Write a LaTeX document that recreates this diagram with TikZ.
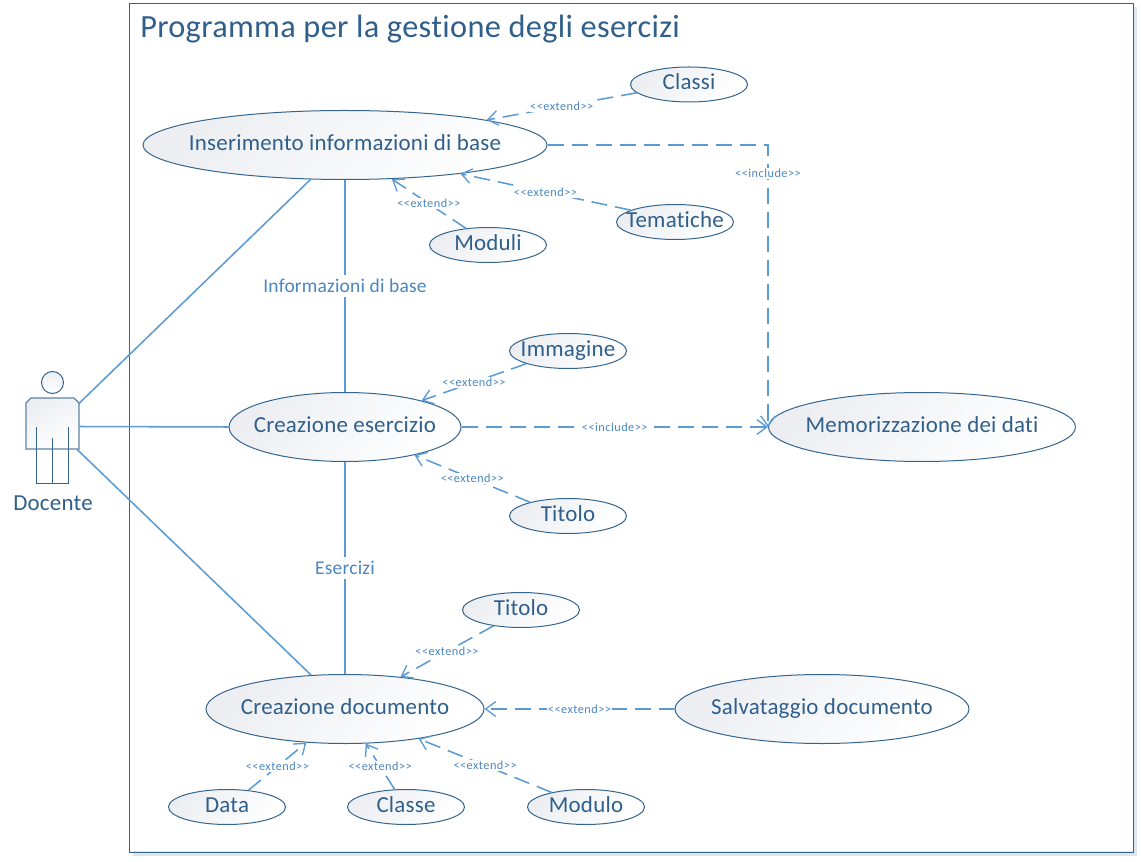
\documentclass[tikz,border=0pt]{standalone}
\usepackage{fontspec}
\newfontfamily\calib[Ligatures=NoCommon,LetterSpace=1.0]{Carlito}
\newfontfamily\calibtiny[Ligatures=NoCommon,LetterSpace=4.0]{Carlito}
\usetikzlibrary{shapes.geometric,arrows.meta}
\definecolor{edgeblue}{HTML}{34658F}
\definecolor{linkblue}{HTML}{5B9BD5}
\definecolor{textblue}{HTML}{2F5F8A}
\definecolor{lablue}{HTML}{4A86C0}
\definecolor{shadegray}{HTML}{ECEEF2}
\definecolor{softblue}{HTML}{DCE6F1}
\newcommand{\ctxt}[1]{\makebox[0pt][c]{#1}}
\tikzset{
  uc/.style 2 args={ellipse, draw=edgeblue, line width=.75pt, top color=shadegray, middle color=white, bottom color=white, shading angle=50,
    minimum width=#1*.75pt, minimum height=#2*.75pt, inner sep=0pt, text height=11.5pt, text depth=3.5pt, text=textblue, font=\calib\fontsize{17.2pt}{20pt}\selectfont},
  small/.style={uc={117}{35}},
  assoc/.style={draw=linkblue, line width=1.15pt},
  dep/.style={draw=linkblue, line width=1.15pt, dash pattern=on 12pt off 6pt, -{Straight Barb[length=7.5pt,width=11pt,line width=1pt]}},
  stereo/.style={fill=white, inner sep=1pt, text=lablue, font=\calibtiny\fontsize{9.2pt}{10pt}\selectfont},
  rolename/.style={fill=white, inner xsep=1pt, inner ysep=3pt, text=lablue, font=\calib\fontsize{14.6pt}{17pt}\selectfont}
}
\begin{document}
\begin{tikzpicture}[x=.75pt,y=-.75pt]
\useasboundingbox (0,0) rectangle (1141,862);
\fill[white] (0,0) rectangle (1141,862);
% system frame
\fill[softblue] (133,851) rectangle (1137,856);
\fill[softblue] (1134,7) rectangle (1137,856);
\draw[draw=edgeblue, line width=.75pt] (129.5,3.5) rectangle (1133.5,852);
\node[anchor=west, inner sep=0pt, text=textblue, font=\calib\fontsize{24.25pt}{28pt}\selectfont] (title) at (140,29) {Programma per la gestione degli esercizi};
% actor
\node[minimum width=53*.75pt, minimum height=45*.75pt, inner sep=0pt] (actor) at (52.5,426.5) {};
\draw[edgeblue, line width=.75pt, top color=shadegray, bottom color=white] (52.5,382.5) circle[radius=11];
\draw[draw=edgeblue!80!white, line width=.9pt, top color=shadegray, middle color=white, bottom color=white, shading angle=30]
  (31,398) -- (74,398) -- (79,403) -- (79,449) -- (26,449) -- (26,403) -- cycle;
\draw[edgeblue, line width=.75pt] (36.5,427) -- (36.5,483) -- (68.5,483) -- (68.5,427) (52.5,438) -- (52.5,483);
\node[inner sep=0pt, text=textblue, font=\calib\fontsize{17.2pt}{20pt}\selectfont] (doc) at (53,503) {Docente};
% use cases
\node[uc={404}{69}] (ins) at (345,145) {\ctxt{Inserimento informazioni di base}};
\node[small] (classi) at (689,84.5) {\ctxt{Classi}};
\node[small] (tem) at (675,222) {\ctxt{Tematiche}};
\node[small] (mod) at (488,245) {\ctxt{Moduli}};
\node[small] (imm) at (568,351) {\ctxt{Immagine}};
\node[uc={232}{69}] (ces) at (345,427) {\ctxt{Creazione esercizio}};
\node[uc={307}{69}] (mem) at (922,427) {\ctxt{Memorizzazione dei dati}};
\node[small] (tit) at (568,516) {\ctxt{Titolo}};
\node[small] (titd) at (521,610) {\ctxt{Titolo}};
\node[uc={278}{69}] (cdo) at (345,709) {\ctxt{Creazione documento}};
\node[uc={294}{69}] (sal) at (822,709) {\ctxt{Salvataggio documento}};
\node[small] (dat) at (227,807) {\ctxt{Data}};
\node[small] (cla) at (406,807) {\ctxt{Classe}};
\node[small] (mdl) at (586,807) {\ctxt{Modulo}};
% associations
\draw[assoc] (actor.41.4) -- (ins.225);
\draw[assoc] (actor.east) -- (ces.west);
\draw[assoc] (actor.-43.7) -- (cdo.135);
\draw[assoc] (ins.south) -- node[rolename] (l1) {Informazioni di base} (ces.north);
\draw[assoc] (ces.south) -- node[rolename] (l2) {Esercizi} (cdo.north);
% extends
\draw[dep] (classi.189.6) -- node[stereo] (e1) {<<extend>>} (ins.10.5);
\draw[dep] (tem.165.7) -- node[stereo] (e2) {<<extend>>} (ins.-14);
\draw[dep] (mod.143.5) -- node[stereo] (e3) {<<extend>>} (ins.-36);
\draw[dep] (imm.197.6) -- node[stereo] (e4) {<<extend>>} (ces.19.5);
\draw[dep] (tit.160) -- node[stereo] (e5) {<<extend>>} (ces.-22);
\draw[dep] (titd.210) -- node[stereo] (e6) {<<extend>>} (cdo.30);
\draw[dep] (sal.west) -- node[stereo] (e7) {<<extend>>} (cdo.east);
\draw[dep] (dat.38.7) -- node[stereo] (e8) {<<extend>>} (cdo.221);
\draw[dep] (cla.123) -- node[stereo] (e9) {<<extend>>} (cdo.-59.5);
\draw[dep] (mdl.157.6) -- node[stereo] (e10) {<<extend>>} (cdo.-22.5);
% includes
\draw[dep] (ces.east) -- node[stereo] (i1) {<<include>>} (mem.west);
\draw[dep] (ins.east) -| node[stereo, pos=.551] (i2) {<<include>>} (mem.west);
\end{tikzpicture}
\end{document}
